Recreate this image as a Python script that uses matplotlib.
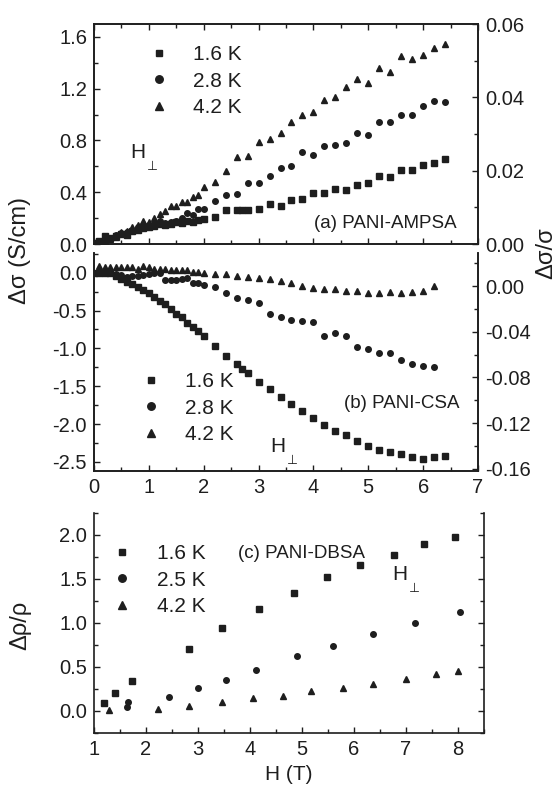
import matplotlib
matplotlib.use("Agg")
from matplotlib import pyplot as plt
from matplotlib.ticker import MultipleLocator, FormatStrFormatter

plt.rcParams['font.family'] = ['Liberation Sans', 'DejaVu Sans']

# ---- panel (a) PANI-AMPSA ----
ha_sq = [0.0, 0.1, 0.2, 0.3, 0.4, 0.5, 0.6, 0.7, 0.8, 0.9, 1.0, 1.1, 1.2, 1.3, 1.4, 1.5, 1.6, 1.7, 1.8, 1.9, 2.0,
         2.2, 2.4, 2.6, 2.7, 2.8, 3.0, 3.2, 3.4, 3.6, 3.8, 4.0, 4.2, 4.4, 4.6, 4.8, 5.0, 5.2, 5.4, 5.6, 5.8, 6.0, 6.2, 6.4]
sa_16 = [0.01, 0.02, 0.06, 0.05, 0.06, 0.08, 0.07, 0.10, 0.11, 0.12, 0.135, 0.14, 0.155, 0.143, 0.157, 0.168, 0.165,
         0.176, 0.17, 0.187, 0.19, 0.208, 0.263, 0.263, 0.263, 0.263, 0.27, 0.311, 0.293, 0.34, 0.345, 0.394, 0.394,
         0.425, 0.415, 0.456, 0.473, 0.527, 0.517, 0.569, 0.569, 0.612, 0.623, 0.654]
ha = [0.1, 0.2, 0.3, 0.4, 0.5, 0.6, 0.7, 0.8, 0.9, 1.0, 1.1, 1.2, 1.3, 1.4, 1.5, 1.6, 1.7, 1.8, 1.9, 2.0,
      2.2, 2.4, 2.6, 2.8, 3.0, 3.2, 3.4, 3.6, 3.8, 4.0, 4.2, 4.4, 4.6, 4.8, 5.0, 5.2, 5.4, 5.6, 5.8, 6.0, 6.2, 6.4]
sa_28 = [0.02, 0.03, 0.04, 0.066, 0.083, 0.09, 0.104, 0.13, 0.143, 0.143, 0.156, 0.176, 0.16, 0.168, 0.174, 0.20,
         0.238, 0.225, 0.27, 0.27, 0.332, 0.378, 0.386, 0.469, 0.469, 0.527, 0.589, 0.605, 0.708, 0.69, 0.754, 0.762,
         0.778, 0.857, 0.842, 0.944, 0.944, 0.996, 0.996, 1.066, 1.107, 1.097]
sa_42 = [0.02, 0.027, 0.04, 0.053, 0.09, 0.099, 0.13, 0.143, 0.18, 0.168, 0.20, 0.233, 0.253, 0.29, 0.297, 0.323,
         0.323, 0.367, 0.375, 0.444, 0.476, 0.561, 0.67, 0.68, 0.79, 0.81, 0.855, 0.94, 0.996, 1.02, 1.11, 1.137,
         1.215, 1.276, 1.241, 1.359, 1.33, 1.452, 1.426, 1.46, 1.516, 1.544]

# ---- panel (b) PANI-CSA ----
hb_sq = ha_sq
sb_16 = [0.0, 0.0, 0.0, -0.01, -0.04, -0.08, -0.12, -0.15, -0.19, -0.23, -0.275, -0.32, -0.37, -0.42, -0.48, -0.54,
         -0.59, -0.66, -0.72, -0.77, -0.83, -0.97, -1.10, -1.20, -1.27, -1.33, -1.44, -1.54, -1.64, -1.74, -1.83,
         -1.92, -2.01, -2.09, -2.15, -2.23, -2.29, -2.34, -2.37, -2.40, -2.44, -2.46, -2.44, -2.42]
hb = [0.1, 0.2, 0.3, 0.4, 0.5, 0.6, 0.7, 0.8, 0.9, 1.0, 1.1, 1.2, 1.3, 1.4, 1.5, 1.6, 1.7, 1.8, 1.9, 2.0,
      2.2, 2.4, 2.6, 2.8, 3.0, 3.2, 3.4, 3.6, 3.8, 4.0, 4.2, 4.4, 4.6, 4.8, 5.0, 5.2, 5.4, 5.6, 5.8, 6.0, 6.2]
sb_28 = [0.0, -0.01, -0.01, -0.02, -0.03, -0.06, -0.05, -0.04, -0.03, -0.02, 0.0, 0.0, -0.10, -0.10, -0.10, -0.09,
         -0.07, -0.13, -0.14, -0.16, -0.19, -0.27, -0.33, -0.36, -0.40, -0.54, -0.58, -0.62, -0.64, -0.65, -0.84,
         -0.80, -0.84, -0.98, -1.01, -1.06, -1.06, -1.16, -1.20, -1.23, -1.24]
sb_42 = [0.086, 0.077, 0.077, 0.077, 0.069, 0.069, 0.069, 0.055, 0.086, 0.069, 0.055, 0.055, 0.055, 0.042, 0.042,
         0.042, 0.042, 0.01, 0.01, 0.0, -0.02, -0.024, -0.04, -0.055, -0.064, -0.077, -0.108, -0.13, -0.18, -0.20,
         -0.21, -0.22, -0.24, -0.245, -0.267, -0.267, -0.26, -0.275, -0.26, -0.24, -0.175]

# ---- panel (c) PANI-DBSA ----
hc_16 = [1.2, 1.4, 1.74, 2.83, 3.47, 4.18, 4.85, 5.49, 6.12, 6.76, 7.35, 7.95]
rc_16 = [0.088, 0.20, 0.34, 0.71, 0.94, 1.156, 1.34, 1.52, 1.656, 1.77, 1.894, 1.974]
hc_25 = [1.63, 1.66, 2.45, 3.0, 3.53, 4.12, 4.9, 5.59, 6.37, 7.18, 8.03]
rc_25 = [0.05, 0.106, 0.16, 0.26, 0.35, 0.466, 0.63, 0.74, 0.87, 1.0, 1.12]
hc_42 = [1.29, 2.24, 2.83, 3.47, 4.06, 4.64, 5.17, 5.79, 6.37, 7.0, 7.57, 8.0]
rc_42 = [0.011, 0.023, 0.06, 0.106, 0.144, 0.17, 0.227, 0.265, 0.31, 0.36, 0.417, 0.46]

labels_ab = ['1.6 K', '2.8 K', '4.2 K']
labels_c = ['1.6 K', '2.5 K', '4.2 K']

ink = '#1e1e1e'
W, H = 557, 790


def fx(x):
    return x / W


def fy(y):
    return 1 - y / H


def style(ax):
    ax.tick_params(which='both', direction='in', colors=ink, labelsize=14.5, width=1.0, pad=5)
    ax.tick_params(which='major', length=4.5)
    ax.tick_params(which='minor', length=3)
    for s in ax.spines.values():
        s.set_color(ink)
        s.set_linewidth(1.2)


def hperp(x, y):
    fig.text(fx(x), fy(y), 'H', fontsize=15, color=ink, ha='left', va='center')
    fig.text(fx(x + 17), fy(y + 13), '\u22a5', fontsize=9, color=ink, ha='left', va='center',
             family=['DejaVu Sans'])


def add_legend(ax, x0, y0):
    ax.legend(loc='upper left', bbox_to_anchor=(x0, y0), frameon=False, fontsize=15,
              handlelength=1.0, handletextpad=1.15, labelspacing=0.37, borderpad=0, borderaxespad=0,
              markerscale=1.35, labelcolor=ink)


fig = plt.figure(figsize=(W / 100, H / 100), dpi=100)
ax_a = fig.add_axes([fx(94), fy(244), fx(384), 220 / H])
ax_b = fig.add_axes([fx(94), fy(471), fx(384), 218 / H])
ax_c = fig.add_axes([fx(94), fy(733), fx(390), 220 / H])

mk = dict(ls='none', color=ink, mec=ink)

# panel (a)
ax_a.plot(ha_sq, sa_16, marker='s', ms=3.7, label=labels_ab[0], **mk)
ax_a.plot(ha, sa_28, marker='o', ms=4.0, label=labels_ab[1], **mk)
ax_a.plot(ha, sa_42, marker='^', ms=4.4, label=labels_ab[2], **mk)
ax_a.set_xlim(0, 7)
ax_a.set_ylim(0, 1.7)
ax_a.xaxis.set_major_locator(MultipleLocator(1))
ax_a.xaxis.set_minor_locator(MultipleLocator(0.5))
ax_a.yaxis.set_major_locator(MultipleLocator(0.4))
ax_a.yaxis.set_minor_locator(MultipleLocator(0.2))
ax_a.yaxis.set_major_formatter(FormatStrFormatter('%.1f'))
style(ax_a)
ax_a.tick_params(which='both', top=True, bottom=True, labelbottom=False)
ra = ax_a.twinx()
ra.set_ylim(0, 0.06)
ra.yaxis.set_major_locator(MultipleLocator(0.02))
ra.yaxis.set_minor_locator(MultipleLocator(0.01))
ra.yaxis.set_major_formatter(FormatStrFormatter('%.2f'))
style(ra)
add_legend(ax_a, 0.141, 0.905)

# panel (b)
ax_b.plot(hb_sq, sb_16, marker='s', ms=3.7, label=labels_ab[0], **mk)
ax_b.plot(hb, sb_28, marker='o', ms=4.0, label=labels_ab[1], **mk)
ax_b.plot(hb, sb_42, marker='^', ms=4.4, label=labels_ab[2], **mk)
ax_b.set_xlim(0, 7)
ax_b.set_ylim(-2.62, 0.26)
ax_b.xaxis.set_major_locator(MultipleLocator(1))
ax_b.xaxis.set_minor_locator(MultipleLocator(0.5))
ax_b.yaxis.set_major_locator(MultipleLocator(0.5))
ax_b.yaxis.set_minor_locator(MultipleLocator(0.25))
ax_b.yaxis.set_major_formatter(FormatStrFormatter('%.1f'))
style(ax_b)
ax_b.spines['top'].set_visible(False)
rb = ax_b.twinx()
rb.set_ylim(-0.162, 0.029)
rb.yaxis.set_major_locator(MultipleLocator(0.04))
rb.yaxis.set_minor_locator(MultipleLocator(0.02))
rb.yaxis.set_major_formatter(FormatStrFormatter('%.2f'))
style(rb)
rb.spines['top'].set_visible(False)
add_legend(ax_b, 0.1206, 0.455)

# panel (c)
ax_c.plot(hc_16, rc_16, marker='s', ms=3.7, label=labels_c[0], **mk)
ax_c.plot(hc_25, rc_25, marker='o', ms=4.0, label=labels_c[1], **mk)
ax_c.plot(hc_42, rc_42, marker='^', ms=4.4, label=labels_c[2], **mk)
ax_c.set_xlim(1, 8.5)
ax_c.set_ylim(-0.25, 2.25)
ax_c.xaxis.set_major_locator(MultipleLocator(1))
ax_c.xaxis.set_minor_locator(MultipleLocator(0.5))
ax_c.yaxis.set_major_locator(MultipleLocator(0.5))
ax_c.yaxis.set_minor_locator(MultipleLocator(0.25))
ax_c.yaxis.set_major_formatter(FormatStrFormatter('%.1f'))
style(ax_c)
ax_c.spines['top'].set_visible(False)
ax_c.tick_params(which='both', right=True)
ax_c.set_xlabel('H (T)', fontsize=15, color=ink, labelpad=4)
add_legend(ax_c, 0.046, 0.86)

# annotations
fig.text(fx(457), fy(223), '(a) PANI-AMPSA', fontsize=13.5, color=ink, ha='right', va='center')
fig.text(fx(460), fy(403), '(b) PANI-CSA', fontsize=13.5, color=ink, ha='right', va='center')
fig.text(fx(238), fy(553), '(c) PANI-DBSA', fontsize=13.5, color=ink, ha='left', va='center')
hperp(130, 153)
hperp(270, 447)
hperp(392, 575)

fig.text(fx(20), fy(250), '\u0394\u03c3 (S/cm)', fontsize=17, color=ink, rotation=90, ha='center', va='center')
fig.text(fx(546), fy(253), '\u0394\u03c3/\u03c3', fontsize=17, color=ink, rotation=90, ha='center', va='center')
fig.text(fx(20), fy(625), '\u0394\u03c1/\u03c1', fontsize=17, color=ink, rotation=90, ha='center', va='center')

fig.savefig('out.png', dpi=100)
